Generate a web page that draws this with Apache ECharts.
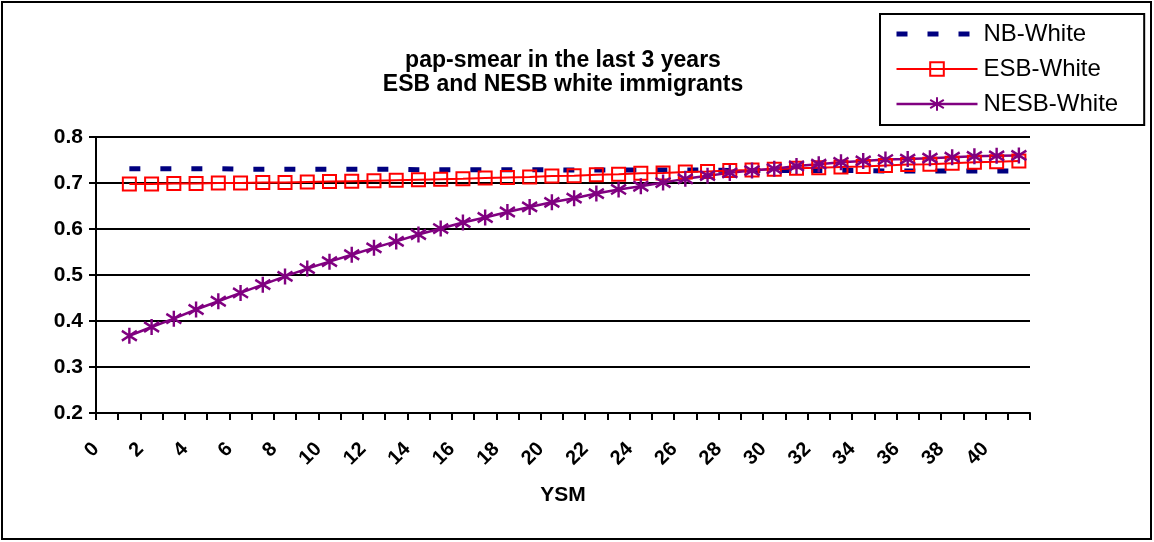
<!DOCTYPE html>
<html>
<head>
<meta charset="utf-8">
<title>pap-smear in the last 3 years</title>
<script src="https://cdn.jsdelivr.net/npm/echarts@6/dist/echarts.min.js"></script>
<style>
  html, body { margin: 0; padding: 0; background: #fff; }
  #main { width: 1154px; height: 542px; }
</style>
</head>
<body>
<div id="main"></div>
<script>
// years since migration
const ysm = [1, 2, 3, 4, 5, 6, 7, 8, 9, 10, 11, 12, 13, 14, 15, 16, 17, 18, 19, 20,
  21, 22, 23, 24, 25, 26, 27, 28, 29, 30, 31, 32, 33, 34, 35, 36, 37, 38, 39, 40, 41];

const nbWhite = [0.731, 0.731, 0.731, 0.731, 0.731, 0.730, 0.730, 0.730, 0.730, 0.730,
  0.730, 0.730, 0.730, 0.729, 0.729, 0.729, 0.729, 0.729, 0.729, 0.729,
  0.728, 0.728, 0.728, 0.728, 0.728, 0.728, 0.728, 0.727, 0.727, 0.727,
  0.727, 0.727, 0.727, 0.727, 0.726, 0.726, 0.726, 0.726, 0.726, 0.726, 0.726];

const esbWhite = [0.698, 0.698, 0.699, 0.699, 0.700, 0.700, 0.701, 0.701, 0.702, 0.703,
  0.704, 0.705, 0.706, 0.707, 0.708, 0.709, 0.711, 0.712, 0.713, 0.715,
  0.716, 0.718, 0.719, 0.721, 0.722, 0.724, 0.725, 0.727, 0.728, 0.730,
  0.732, 0.733, 0.735, 0.736, 0.738, 0.740, 0.741, 0.743, 0.745, 0.746, 0.748];

const nesbWhite = [0.368, 0.387, 0.405, 0.425, 0.443, 0.461, 0.479, 0.497, 0.514, 0.529,
  0.544, 0.559, 0.573, 0.588, 0.601, 0.614, 0.625, 0.637, 0.648, 0.658,
  0.667, 0.677, 0.686, 0.693, 0.701, 0.709, 0.716, 0.722, 0.727, 0.731,
  0.737, 0.741, 0.745, 0.748, 0.751, 0.752, 0.754, 0.756, 0.758, 0.759, 0.760];

const xTickLabels = ['0', '2', '4', '6', '8', '10', '12', '14', '16', '18', '20',
  '22', '24', '26', '28', '30', '32', '34', '36', '38', '40'];

const FONT = 'Liberation Sans, Arial, sans-serif';
const asterisk = 'path://M5,0 L5,10 M0.5,2 L9.5,8 M0.5,8 L9.5,2';

// excel puts each point in the middle of its category slot
const pairs = vals => ysm.map((y, i) => [y + 0.5, vals[i]]);

const chart = echarts.init(document.getElementById('main'));

chart.setOption({
  animation: false,
  backgroundColor: '#fff',
  graphic: [
    {
      type: 'rect',
      shape: { x: 2, y: 2, width: 1149, height: 537 },
      style: { fill: 'none', stroke: '#000', lineWidth: 2 },
      silent: true
    },
    {
      type: 'text',
      x: 563,
      y: 49,
      style: {
        text: 'pap-smear in the last 3 years\nESB and NESB white immigrants',
        font: 'bold 23px ' + FONT,
        lineHeight: 24,
        textAlign: 'center',
        fill: '#000'
      }
    }
  ],
  legend: {
    orient: 'vertical',
    left: 880,
    top: 14,
    padding: [8, 26, 9, 14],
    itemGap: 11,
    itemWidth: 81,
    itemHeight: 17,
    borderColor: '#000',
    borderWidth: 2,
    selectedMode: false,
    textStyle: { fontFamily: FONT, fontSize: 24, color: '#000', padding: [0, 0, 0, 1] },
    data: [
      { name: 'NB-White', itemStyle: { opacity: 0 }, lineStyle: { width: 5 } },
      { name: 'ESB-White', lineStyle: { width: 2 } },
      { name: 'NESB-White', lineStyle: { width: 2.5 } }
    ]
  },
  grid: { left: 96, right: 124, top: 137, bottom: 129 },
  xAxis: {
    type: 'value',
    min: 0,
    max: 42,
    interval: 1,
    name: 'YSM',
    nameLocation: 'middle',
    nameGap: 72,
    nameTextStyle: { fontFamily: FONT, fontSize: 21, fontWeight: 'bold', color: '#000' },
    axisLine: { lineStyle: { color: '#000', width: 2 } },
    axisTick: { length: 7, lineStyle: { color: '#000', width: 2 } },
    splitLine: { show: false },
    axisLabel: {
      rotate: 45,
      margin: 33,
      fontFamily: FONT,
      fontSize: 20,
      fontWeight: 'bold',
      color: '#000',
      showMaxLabel: true,
      formatter: v => xTickLabels.indexOf(String(v)) >= 0 ? String(v) : ''
    }
  },
  yAxis: {
    type: 'value',
    min: 0.2,
    max: 0.8,
    interval: 0.1,
    axisLine: { show: true, lineStyle: { color: '#000', width: 2 } },
    axisTick: { show: true, length: 7, lineStyle: { color: '#000', width: 2 } },
    splitLine: { lineStyle: { color: '#000', width: 2 } },
    axisLabel: {
      margin: 13,
      fontFamily: FONT,
      fontSize: 21,
      fontWeight: 'bold',
      color: '#000',
      formatter: v => v.toFixed(1)
    }
  },
  series: [
    {
      name: 'NB-White',
      type: 'line',
      data: pairs(nbWhite),
      symbol: 'none',
      itemStyle: { color: '#000080' },
      lineStyle: { color: '#000080', width: 5, type: [11, 20], cap: 'butt' }
    },
    {
      name: 'ESB-White',
      type: 'line',
      data: pairs(esbWhite),
      symbol: 'rect',
      symbolSize: 13,
      itemStyle: { color: 'rgba(0,0,0,0)', borderColor: '#ff0000', borderWidth: 2 },
      lineStyle: { color: '#ff0000', width: 2 }
    },
    {
      name: 'NESB-White',
      type: 'line',
      data: pairs(nesbWhite),
      symbol: asterisk,
      symbolSize: [15, 16],
      itemStyle: { color: '#800080', borderColor: '#800080', borderWidth: 2.5 },
      lineStyle: { color: '#800080', width: 2.5 }
    }
  ]
});
</script>
</body>
</html>
